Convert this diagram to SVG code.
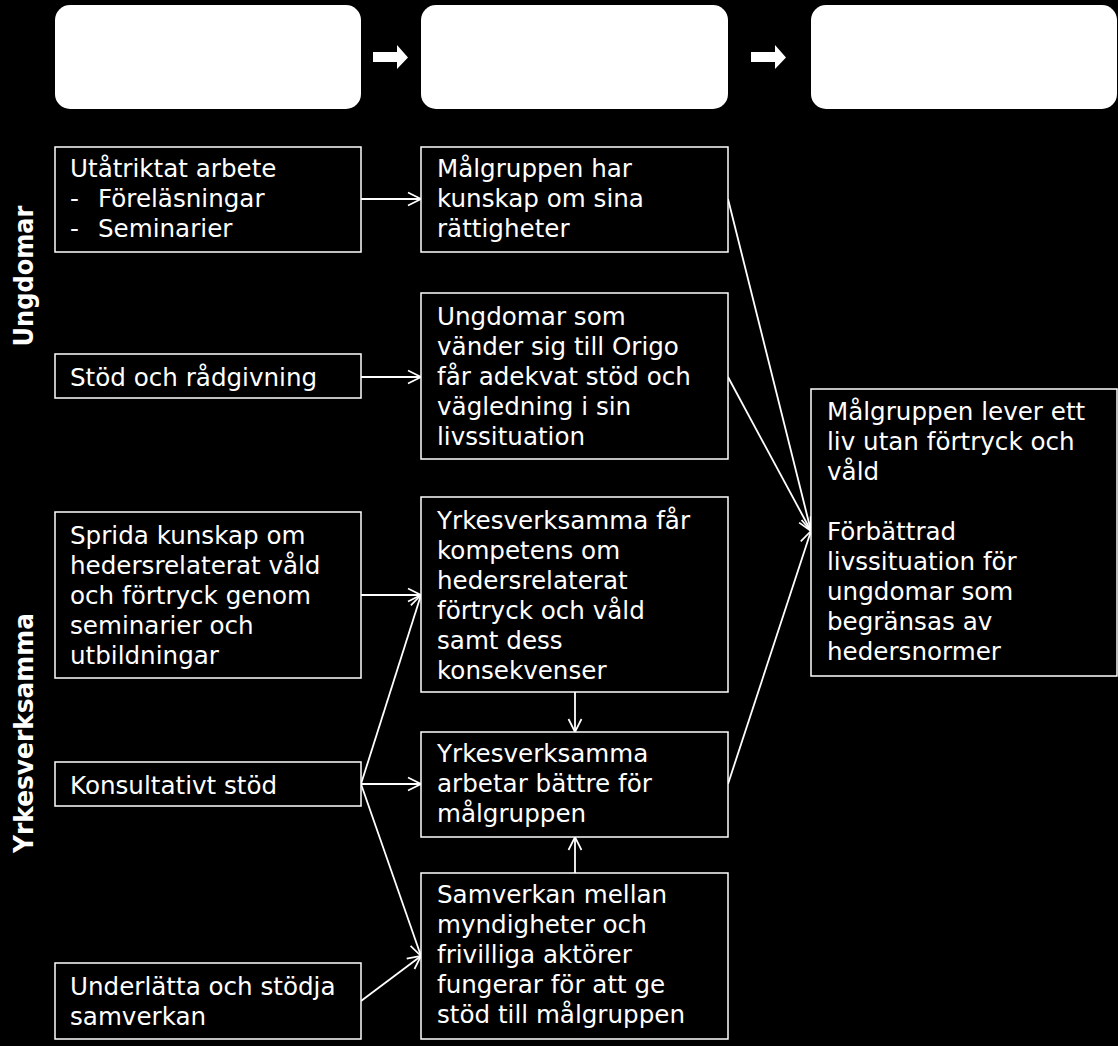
<svg xmlns="http://www.w3.org/2000/svg" width="1118" height="1046" viewBox="0 0 1118 1046">
<style>
.hdr{fill:#fff;stroke:none}
.box{fill:#000;stroke:#fff;stroke-width:1.5}
.t{fill:#fff;font-family:"DejaVu Sans","Liberation Sans",sans-serif;font-size:24.6px}
.lbl{fill:#fff;font-family:"DejaVu Sans","Liberation Sans",sans-serif;font-size:27px;font-weight:bold}
.c line{stroke:#fff;stroke-width:1.8;fill:none}
</style>
<defs>
<marker id="ah" viewBox="0 0 16 16" refX="15" refY="8" markerWidth="16" markerHeight="16" markerUnits="userSpaceOnUse" orient="auto">
<path d="M2,1.5 L15,8 L2,14.5" fill="none" stroke="#fff" stroke-width="1.7"/>
</marker>
<path id="blk" d="M0,6 H24 V-1 L35,11.5 L24,23 V16 H0 Z" fill="#fff"/>
</defs>
<rect width="1118" height="1046" fill="#000"/>
<g id="headers">
<rect class="hdr" x="55" y="5" width="306" height="104" rx="15"/>
<rect class="hdr" x="421" y="5" width="307" height="104" rx="15"/>
<rect class="hdr" x="811" y="5" width="306" height="104" rx="15"/>
<use href="#blk" x="373" y="46"/>
<use href="#blk" x="751" y="46"/>
</g>
<g id="labels">
<text class="lbl" transform="translate(33,276) rotate(-90)" text-anchor="middle" textLength="141" lengthAdjust="spacingAndGlyphs">Ungdomar</text>
<text class="lbl" transform="translate(33,733) rotate(-90)" text-anchor="middle" textLength="240" lengthAdjust="spacingAndGlyphs">Yrkesverksamma</text>
</g>
<g class="c" id="connectors">
<line x1="361" y1="199" x2="421" y2="199" marker-end="url(#ah)"/>
<line x1="361" y1="377" x2="421" y2="377" marker-end="url(#ah)"/>
<line x1="361" y1="595" x2="421" y2="595" marker-end="url(#ah)"/>
<line x1="361" y1="784" x2="421" y2="784" marker-end="url(#ah)"/>
<line x1="361" y1="784" x2="421" y2="595" marker-end="url(#ah)"/>
<line x1="361" y1="784" x2="421" y2="956" marker-end="url(#ah)"/>
<line x1="361" y1="1001" x2="421" y2="956" marker-end="url(#ah)"/>
<line x1="575" y1="692" x2="575" y2="732" marker-end="url(#ah)"/>
<line x1="575" y1="873" x2="575" y2="837" marker-end="url(#ah)"/>
<line x1="728" y1="199" x2="811" y2="531" marker-end="url(#ah)"/>
<line x1="728" y1="377" x2="811" y2="531" marker-end="url(#ah)"/>
<line x1="728" y1="784" x2="811" y2="531" marker-end="url(#ah)"/>
</g>
<g id="n-utatriktat">
<rect class="box" x="55" y="147" width="306" height="105"/>
<text class="t"><tspan x="70" y="177">Utåtriktat arbete</tspan><tspan x="70" y="207">-</tspan><tspan x="98" y="207">Föreläsningar</tspan><tspan x="70" y="237">-</tspan><tspan x="98" y="237">Seminarier</tspan></text>
</g>
<g id="n-stod">
<rect class="box" x="55" y="354" width="306" height="44"/>
<text class="t" x="70" y="386">Stöd och rådgivning</text>
</g>
<g id="n-sprida">
<rect class="box" x="55" y="512" width="306" height="166"/>
<text class="t"><tspan x="70" y="544">Sprida kunskap om</tspan><tspan x="70" y="574">hedersrelaterat våld</tspan><tspan x="70" y="604">och förtryck genom</tspan><tspan x="70" y="634">seminarier och</tspan><tspan x="70" y="664">utbildningar</tspan></text>
</g>
<g id="n-konsult">
<rect class="box" x="55" y="762" width="306" height="44"/>
<text class="t" x="70" y="794">Konsultativt stöd</text>
</g>
<g id="n-underlatta">
<rect class="box" x="55" y="963" width="306" height="76"/>
<text class="t"><tspan x="70" y="995">Underlätta och stödja</tspan><tspan x="70" y="1025">samverkan</tspan></text>
</g>
<g id="n-kunskap">
<rect class="box" x="421" y="147" width="307" height="105"/>
<text class="t"><tspan x="437" y="177">Målgruppen har</tspan><tspan x="437" y="207">kunskap om sina</tspan><tspan x="437" y="237">rättigheter</tspan></text>
</g>
<g id="n-ungdomar">
<rect class="box" x="421" y="293" width="307" height="166"/>
<text class="t"><tspan x="437" y="325">Ungdomar som</tspan><tspan x="437" y="355">vänder sig till Origo</tspan><tspan x="437" y="385">får adekvat stöd och</tspan><tspan x="437" y="415">vägledning i sin</tspan><tspan x="437" y="445">livssituation</tspan></text>
</g>
<g id="n-kompetens">
<rect class="box" x="421" y="497" width="307" height="195"/>
<text class="t"><tspan x="437" y="529">Yrkesverksamma får</tspan><tspan x="437" y="559">kompetens om</tspan><tspan x="437" y="589">hedersrelaterat</tspan><tspan x="437" y="619">förtryck och våld</tspan><tspan x="437" y="649">samt dess</tspan><tspan x="437" y="679">konsekvenser</tspan></text>
</g>
<g id="n-battre">
<rect class="box" x="421" y="732" width="307" height="105"/>
<text class="t"><tspan x="437" y="762">Yrkesverksamma</tspan><tspan x="437" y="792">arbetar bättre för</tspan><tspan x="437" y="822">målgruppen</tspan></text>
</g>
<g id="n-samverkan">
<rect class="box" x="421" y="873" width="307" height="166"/>
<text class="t"><tspan x="437" y="903">Samverkan mellan</tspan><tspan x="437" y="933">myndigheter och</tspan><tspan x="437" y="963">frivilliga aktörer</tspan><tspan x="437" y="993">fungerar för att ge</tspan><tspan x="437" y="1023">stöd till målgruppen</tspan></text>
</g>
<g id="n-mal">
<rect class="box" x="811" y="389" width="306" height="287"/>
<text class="t"><tspan x="827" y="420">Målgruppen lever ett</tspan><tspan x="827" y="450">liv utan förtryck och</tspan><tspan x="827" y="480">våld</tspan><tspan x="827" y="540">Förbättrad</tspan><tspan x="827" y="570">livssituation för</tspan><tspan x="827" y="600">ungdomar som</tspan><tspan x="827" y="630">begränsas av</tspan><tspan x="827" y="660">hedersnormer</tspan></text>
</g>
</svg>
